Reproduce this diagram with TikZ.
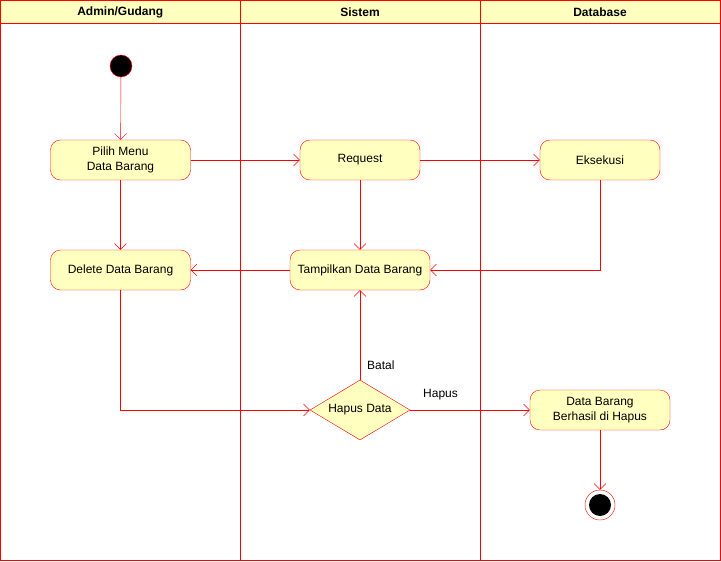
\documentclass[tikz,border=0pt]{standalone}
\usepackage{fontspec}
\setmainfont{Liberation Sans}
\usetikzlibrary{arrows.meta,shapes.geometric}
\definecolor{lred}{HTML}{FF0000}
\definecolor{lfill}{HTML}{FFFFC0}
\tikzset{
  act/.style={draw=lred, fill=lfill, rounded corners=10pt, minimum height=40pt, align=center, inner sep=0pt, font=\fontsize{12}{15}\selectfont},
  dec/.style={draw=lred, fill=lfill, diamond, aspect=1.667, minimum width=100pt, minimum height=60pt, inner sep=0pt, font=\fontsize{12}{15}\selectfont},
  flow/.style={draw=lred, -{Straight Barb[length=6pt,width=12pt]}},
  lane/.style={draw=lred},
  head/.style={draw=lred, fill=lfill, minimum width=240pt, minimum height=23pt, inner sep=0pt, font=\bfseries\fontsize{12}{15}\selectfont},
  lbl/.style={font=\fontsize{12}{15}\selectfont, inner sep=0pt},
}
\begin{document}
\begin{tikzpicture}[x=1pt,y=-1pt]
\useasboundingbox (0,0) rectangle (721,562);
\fill[white] (0,0) rectangle (721,562);
% lanes
\draw[lane] (0.5,0.5) rectangle (240,560);
\draw[lane] (240,0.5) rectangle (480,560);
\draw[lane] (480,0.5) rectangle (720,560);
\node[head] (h1) at (120.25,12) {Admin/Gudang};
\node[head] (h2) at (360,12) {Sistem};
\node[head] (h3) at (600,12) {Database};
% nodes
\node[circle, draw=lred, fill=black, minimum size=22pt, inner sep=0pt] (start) at (121,66) {};
\node[act, minimum width=140pt] (pilih) at (120.5,160) {Pilih Menu\\Data Barang};
\node[act, minimum width=120pt] (req) at (360,160) {Request};
\node[act, minimum width=120pt] (eks) at (600,160) {Eksekusi};
\node[act, minimum width=140pt] (del) at (120.5,270) {Delete Data Barang};
\node[act, minimum width=140pt] (tamp) at (360,270) {Tampilkan Data Barang};
\node[dec] (hd) at (360,410) {Hapus Data};
\node[act, minimum width=140pt] (ok) at (600,410) {Data Barang\\Berhasil di Hapus};
\node[circle, draw=lred, fill=white, minimum size=30pt, inner sep=0pt] (end) at (600,505) {};
\node[circle, fill=black, minimum size=22pt, inner sep=0pt] (endin) at (600,505) {};
% edges
\draw[flow] (start) -- (pilih);
\draw[flow] (pilih) -- (req);
\draw[flow] (req) -- (eks);
\draw[flow] (pilih) -- (del);
\draw[flow] (req) -- (tamp);
\draw[flow] (eks.south) |- (tamp.east);
\draw[flow] (tamp) -- (del);
\draw[flow] (del.south) |- (hd.west);
\draw[flow] (hd.north) -- (tamp.south);
\draw[flow] (hd.east) -- (ok.west);
\draw[flow] (ok) -- (end);
\node[lbl, anchor=west] (batal) at (367,365) {Batal};
\node[lbl, anchor=west] (hapus) at (423,395) {Hapus};
\end{tikzpicture}
\end{document}
